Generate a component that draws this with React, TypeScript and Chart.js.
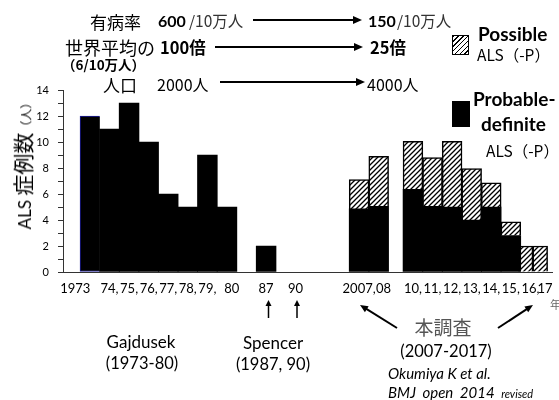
import React, { useEffect, useRef } from 'react';
import { Chart, registerables } from 'chart.js';

Chart.register(...registerables);

// ---- data ----
const years = ['1973', '74', '75', '76', '77', '78', '79', '80', '87', '2007', '08', '10', '11', '12', '13', '14', '15', '16', '17'];
const probableDefinite = [12, 11, 13, 10, 6, 5, 9, 5, 2, 4.85, 5.05, 6.35, 5.05, 5, 4, 5, 2.8, 0, 0];
const possible = [0, 0, 0, 0, 0, 0, 0, 0, 0, 2.25, 3.85, 3.7, 3.75, 5.05, 3.95, 1.85, 1.05, 2, 2];
const tickLabels = ['1973', '74,', '75,', '76,', '77,', '78,', '79,', '80', '87', '90', '2007,', '08', '10,', '11,', '12,', '13,', '14,', '15,', '16,', '17'];
const yMin = 0;
const yMax = 14;

// ---- layout of the category axis (fine slots) ----
const SLOTS = 100;
const barSlot = [5, 9, 13, 17, 21, 25, 29, 33, 41, 60, 64, 71, 75, 79, 83, 87, 91, 94, 97];
const tickSlot = [2, 9, 13, 17, 21, 25, 29, 34, 41, 47, 60, 65, 71, 75, 79, 83, 87, 91, 95, 98];
const narrowYears = ['16', '17'];

const LATIN = "Lato, 'Noto Sans CJK JP', sans-serif";
const CJK = "'Noto Sans CJK JP', Lato, sans-serif";

type TProps = {
  x: number; y: number; size: number; children: React.ReactNode;
  weight?: number; color?: string; family?: string; italic?: boolean; center?: boolean; style?: React.CSSProperties;
};
const T = ({ x, y, size, children, weight = 400, color = '#000', family = LATIN, italic = false, center = false, style }: TProps) => (
  <div
    style={{
      position: 'absolute', left: x, top: y, fontSize: size, fontWeight: weight, color, fontFamily: family,
      fontStyle: italic ? 'italic' : 'normal', lineHeight: 1, whiteSpace: 'nowrap',
      transform: center ? 'translate(-50%,-50%)' : 'translateY(-50%)', ...style,
    }}
  >
    {children}
  </div>
);

function Arrow({ x1, y1, x2, y2, w = 2, head = 9, half = 4 }: { x1: number; y1: number; x2: number; y2: number; w?: number; head?: number; half?: number }) {
  const dx = x2 - x1, dy = y2 - y1;
  const len = Math.hypot(dx, dy);
  const ux = dx / len, uy = dy / len;
  const bx = x2 - ux * head, by = y2 - uy * head;
  const px = -uy, py = ux;
  const pts = `${x2},${y2} ${bx + px * half},${by + py * half} ${bx - px * half},${by - py * half}`;
  return (
    <g>
      <line x1={x1} y1={y1} x2={bx + ux * 1} y2={by + uy * 1} stroke="#000" strokeWidth={w} />
      <polygon points={pts} fill="#000" />
    </g>
  );
}

export default function App() {
  const canvasRef = useRef<HTMLCanvasElement | null>(null);

  useEffect(() => {
    document.body.style.margin = '0';
    const canvas = canvasRef.current!;
    const ctx = canvas.getContext('2d')!;

    const tile = document.createElement('canvas');
    const s = 5;
    tile.width = s; tile.height = s;
    const g = tile.getContext('2d')!;
    g.fillStyle = '#fff'; g.fillRect(0, 0, s, s);
    g.strokeStyle = '#000'; g.lineWidth = 1.3;
    g.beginPath();
    g.moveTo(0, s); g.lineTo(s, 0);
    g.moveTo(-1, 1); g.lineTo(1, -1);
    g.moveTo(s - 1, s + 1); g.lineTo(s + 1, s - 1);
    g.stroke();
    const hatch = ctx.createPattern(tile, 'repeat')!;

    const labels: string[] = Array(SLOTS).fill('');
    tickSlot.forEach((sl, i) => { labels[sl] = tickLabels[i]; });
    const blackData: (number | null)[] = Array(SLOTS).fill(null);
    const hatchData: (number | null)[] = Array(SLOTS).fill(null);
    const hatchNarrow: (number | null)[] = Array(SLOTS).fill(null);
    years.forEach((yr, i) => {
      const sl = barSlot[i];
      if (probableDefinite[i] > 0) blackData[sl] = probableDefinite[i];
      if (possible[i] > 0) (narrowYears.includes(yr) ? hatchNarrow : hatchData)[sl] = possible[i];
    });
    const firstSlot = barSlot[0];

    const chart = new Chart(ctx, {
      type: 'bar',
      data: {
        labels,
        datasets: [
          {
            label: 'Probable-definite ALS(-P)',
            data: blackData,
            backgroundColor: '#000',
            borderColor: (c: any) => (c.dataIndex === firstSlot ? '#1c1c9c' : '#000'),
            borderWidth: (c: any) => (c.dataIndex === firstSlot ? { top: 1, left: 1, bottom: 1, right: 0 } : 0),
            borderSkipped: false,
            barThickness: 19.8,
            stack: 's',
          } as any,
          {
            label: 'Possible ALS(-P)',
            data: hatchData,
            backgroundColor: hatch,
            borderColor: '#000',
            borderWidth: 1.5,
            barThickness: 19.8,
            stack: 's',
          } as any,
          {
            label: 'Possible ALS(-P) (16-17)',
            data: hatchNarrow,
            backgroundColor: hatch,
            borderColor: '#000',
            borderWidth: 1.5,
            barThickness: 14.8,
            stack: 's',
          } as any,
        ],
      },
      options: {
        responsive: false,
        animation: false,
        devicePixelRatio: 1,
        layout: { padding: { left: 0, top: 90, right: 1, bottom: 98 } },
        plugins: { legend: { display: false }, tooltip: { enabled: false } },
        scales: {
          x: {
            stacked: true,
            grid: { display: false, drawTicks: false },
            border: { display: true, color: '#333', width: 1 },
            ticks: {
              autoSkip: false, maxRotation: 0, minRotation: 0, padding: 9, color: '#000',
              font: { family: 'Lato', size: 13 },
            },
            afterFit: (sc: any) => { sc.height = 30; },
          },
          y: {
            stacked: true,
            min: yMin,
            max: yMax,
            ticks: {
              stepSize: 1, autoSkip: false, padding: 9, color: '#000',
              font: { family: 'Lato', size: 11 },
              callback: (v: any) => (Number(v) % 2 === 0 ? String(v) : ''),
            },
            grid: { drawOnChartArea: false, drawTicks: true, tickLength: 5, color: '#333' },
            border: { display: true, color: '#333', width: 1 },
            afterFit: (sc: any) => { sc.width = 63; },
          },
        },
      } as any,
    });
    return () => chart.destroy();
  }, []);

  return (
    <div style={{ position: 'relative', width: 559, height: 400, overflow: 'hidden', background: '#fff' }}>
      <canvas ref={canvasRef} width={559} height={400} style={{ display: 'block', position: 'absolute', left: 0, top: 0 }} />

      {/* top annotation rows */}
      <T x={90} y={21} size={17} family={CJK}>有病率</T>
      <T x={158} y={21} size={16} weight={700}>600</T>
      <T x={189} y={21} size={15.5} family={CJK} color="#333">/10万人</T>
      <T x={368} y={21} size={16} weight={700}>150</T>
      <T x={397} y={21} size={15.5} family={CJK} color="#333">/10万人</T>

      <T x={65} y={47} size={18} family={CJK}>世界平均の</T>
      <T x={160} y={47} size={16.5} weight={700} family={CJK}>100倍</T>
      <T x={370} y={47} size={16.5} weight={700} family={CJK}>25倍</T>
      <T x={62} y={65} size={13.5} weight={700} family={CJK}>（6/10万人）</T>

      <T x={103} y={84} size={17} family={CJK}>人口</T>
      <T x={157} y={84} size={16} family={CJK}>2000人</T>
      <T x={367} y={84} size={16} family={CJK}>4000人</T>

      {/* legend */}
      <div style={{
        position: 'absolute', left: 452, top: 35, width: 15, height: 18, border: '1.5px solid #000',
        background: 'repeating-linear-gradient(135deg, #000 0 1.1px, #fff 1.1px 3.4px)',
      }} />
      <T x={478} y={33} size={19} weight={700}>Possible</T>
      <T x={477} y={55} size={15.5} family={CJK}>ALS（-P）</T>
      <div style={{ position: 'absolute', left: 452, top: 101, width: 18, height: 26, background: '#000' }} />
      <T x={473} y={98} size={19} weight={700}>Probable-</T>
      <T x={481} y={123} size={19} weight={700}>definite</T>
      <T x={486} y={151} size={15.5} family={CJK}>ALS（-P）</T>

      {/* y axis title */}
      <div style={{
        position: 'absolute', left: 23, top: 163, transform: 'translate(-50%,-50%) rotate(-90deg)',
        whiteSpace: 'nowrap', lineHeight: 1, color: '#000',
      }}>
        <span style={{ fontFamily: LATIN, fontSize: 17 }}>ALS </span>
        <span style={{ fontFamily: CJK, fontSize: 21 }}>症例数</span>
        <span style={{ fontFamily: CJK, fontSize: 12 }}>（人）</span>
      </div>

      {/* bottom annotations */}
      <T x={550} y={304} size={11} family={CJK} color="#666">年</T>
      <T x={141} y={341} size={17} center>Gajdusek</T>
      <T x={142} y={363} size={16.5} center>(1973-80)</T>
      <T x={273} y={342} size={17} center>Spencer</T>
      <T x={273} y={364} size={16.5} center>(1987, 90)</T>
      <T x={443} y={326} size={19} family={CJK} color="#555" center>本調査</T>
      <T x={446} y={351} size={16.5} center>(2007-2017)</T>
      <T x={388} y={373} size={15} italic>Okumiya K et al.</T>
      <T x={388} y={392} size={15} italic style={{ wordSpacing: 3 }}>
        BMJ open 2014 <span style={{ fontSize: 11 }}>revised</span>
      </T>

      <svg width={559} height={400} style={{ position: 'absolute', left: 0, top: 0, pointerEvents: 'none' }}>
        <Arrow x1={253} y1={20} x2={362} y2={20} />
        <Arrow x1={215} y1={47} x2={363} y2={47} />
        <Arrow x1={220} y1={82} x2={365} y2={82} />
        <Arrow x1={268.5} y1={318} x2={268.5} y2={300} w={1.5} head={6} half={3} />
        <Arrow x1={297} y1={318} x2={297} y2={300} w={1.5} head={6} half={3} />
        <Arrow x1={397} y1={328} x2={360} y2={305} w={2} head={8} half={3.5} />
        <Arrow x1={498} y1={328} x2={533} y2={305} w={2} head={8} half={3.5} />
      </svg>
    </div>
  );
}
